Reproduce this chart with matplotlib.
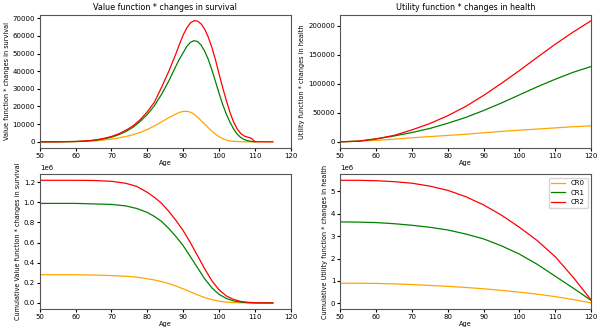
import numpy as np
import matplotlib
matplotlib.use('Agg')
import matplotlib.pyplot as plt

# value function * changes in survival
age_vs_cr2 = [50, 55, 60, 62, 64, 66, 68, 70, 72, 74, 76, 78, 80, 82, 84, 86, 87, 88, 89, 90, 91, 92, 93, 94, 95, 96, 97, 98, 99, 100,
              101, 102, 103, 104, 105, 106, 107, 108, 109, 110, 112, 115]
vs_cr2 = [0, 0, 200, 400, 700, 1200, 2000, 3000, 4500, 6500, 9000, 12500, 17000, 22500, 31000, 40000, 45000, 50000, 55500, 60500,
          64500, 67300, 68600, 68400, 66800, 63800, 59300, 53500, 46500, 38500, 30800, 23600, 17000, 11500, 7500, 4800, 3300, 2600, 2000, 100, 0, 0]
age_vs_cr1 = [50, 55, 60, 62, 64, 66, 68, 70, 72, 74, 76, 78, 80, 82, 84, 86, 88, 89, 90, 91, 92, 93, 94, 95, 96, 97, 98, 99, 100,
              101, 102, 103, 104, 105, 106, 107, 108, 109, 110]
vs_cr1 = [0, 0, 150, 300, 600, 1000, 1700, 2600, 4000, 5800, 8200, 11500, 15500, 20500, 27000, 34500, 43000, 47000, 50500, 54000,
          56300, 57300, 56800, 54800, 51300, 46700, 40800, 34200, 27500, 21300, 15800, 11300, 7500, 4500, 2500, 1300, 600, 200, 0]
age_vs_cr0 = [50, 55, 60, 65, 70, 72, 74, 76, 78, 80, 82, 84, 86, 88, 89, 90, 91, 92, 93, 94, 95, 96, 97, 98, 99, 100,
              101, 102, 103, 104, 106, 108, 115]
vs_cr0 = [0, 0, 100, 400, 1500, 2200, 3000, 4000, 5300, 7000, 9000, 11300, 13700, 15800, 16700, 17200, 17300, 16800, 15700, 14000,
          12000, 10000, 8000, 6000, 4300, 2900, 1800, 1000, 500, 250, 50, 0, 0]

# utility function * changes in health
age_uh = [50, 55, 60, 65, 70, 75, 80, 85, 90, 95, 100, 105, 110, 115, 120]
uh_cr2 = [0, 1000, 5000, 11000, 20500, 31500, 45000, 61000, 80000, 101000, 123000, 146000, 168500, 189500, 209000]
uh_cr1 = [0, 1000, 5000, 10000, 16000, 23000, 32000, 42000, 54000, 67000, 81000, 95000, 108000, 120000, 130000]
uh_cr0 = [0, 1000, 2500, 4500, 7000, 9000, 11000, 13000, 15500, 18000, 20000, 22000, 24000, 26000, 27500]

# cumulative value function * changes in survival
age_cvs = [50, 60, 65, 70, 74, 77, 80, 82, 84, 86, 88, 90, 92, 94, 96, 98, 100, 102, 104, 106, 108, 110, 112, 115]
cvs_cr2 = [1.22e6, 1.22e6, 1.218e6, 1.21e6, 1.19e6, 1.16e6, 1.1e6, 1.05e6, 0.99e6, 0.91e6, 0.82e6, 0.72e6, 0.6e6, 0.47e6,
           0.34e6, 0.22e6, 0.13e6, 0.07e6, 0.035e6, 0.015e6, 0.006e6, 0.002e6, 0, 0]
cvs_cr1 = [0.99e6, 0.99e6, 0.985e6, 0.98e6, 0.965e6, 0.94e6, 0.9e6, 0.86e6, 0.81e6, 0.74e6, 0.66e6, 0.57e6, 0.46e6, 0.35e6,
           0.24e6, 0.15e6, 0.085e6, 0.045e6, 0.02e6, 0.008e6, 0.002e6, 0, 0, 0]
cvs_cr0 = [0.28e6, 0.28e6, 0.277e6, 0.272e6, 0.265e6, 0.257e6, 0.24e6, 0.228e6, 0.212e6, 0.192e6, 0.167e6, 0.14e6, 0.11e6,
           0.08e6, 0.053e6, 0.032e6, 0.017e6, 0.008e6, 0.003e6, 0.001e6, 0, 0, 0, 0]

# cumulative utility function * changes in health
age_cuh = [50, 55, 60, 65, 70, 75, 80, 85, 90, 95, 100, 105, 110, 115, 120]
cuh_cr2 = [5.5e6, 5.5e6, 5.48e6, 5.44e6, 5.37e6, 5.24e6, 5.05e6, 4.77e6, 4.4e6, 3.94e6, 3.4e6, 2.8e6, 2.08e6, 1.16e6, 0.15e6]
cuh_cr1 = [3.64e6, 3.63e6, 3.61e6, 3.56e6, 3.49e6, 3.4e6, 3.28e6, 3.1e6, 2.88e6, 2.57e6, 2.2e6, 1.74e6, 1.21e6, 0.68e6, 0.13e6]
cuh_cr0 = [0.9e6, 0.9e6, 0.89e6, 0.87e6, 0.84e6, 0.8e6, 0.76e6, 0.71e6, 0.65e6, 0.58e6, 0.5e6, 0.41e6, 0.3e6, 0.17e6, 0.02e6]

plt.rcParams['font.size'] = 5.0
plt.rcParams['axes.labelsize'] = 4.7
fig = plt.figure(figsize=(6.02, 3.33), dpi=100)
ax1 = fig.add_axes([0.066, 0.556, 0.417, 0.40])
ax2 = fig.add_axes([0.565, 0.556, 0.417, 0.40])
ax3 = fig.add_axes([0.066, 0.072, 0.417, 0.405])
ax4 = fig.add_axes([0.565, 0.072, 0.417, 0.405])

lw = 0.9
ax1.plot(age_vs_cr0, vs_cr0, color='orange', lw=lw)
ax1.plot(age_vs_cr1, vs_cr1, color='green', lw=lw)
ax1.plot(age_vs_cr2, vs_cr2, color='red', lw=lw)
ax1.set_title('Value function * changes in survival', fontsize=5.8, pad=3)
ax1.set_ylabel('Value function * changes in survival', labelpad=2)

ax2.plot(age_uh, uh_cr0, color='orange', lw=lw)
ax2.plot(age_uh, uh_cr1, color='green', lw=lw)
ax2.plot(age_uh, uh_cr2, color='red', lw=lw)
ax2.set_title('Utility function * changes in health', fontsize=5.8, pad=3)
ax2.set_ylabel('Utility function * changes in health', labelpad=2)

ax3.plot(age_cvs, cvs_cr0, color='orange', lw=lw)
ax3.plot(age_cvs, cvs_cr1, color='green', lw=lw)
ax3.plot(age_cvs, cvs_cr2, color='red', lw=lw)
ax3.set_ylabel('Cumulative Value function * changes in survival', labelpad=2)

ax4.plot(age_cuh, cuh_cr0, color='orange', lw=lw, label='CR0')
ax4.plot(age_cuh, cuh_cr1, color='green', lw=lw, label='CR1')
ax4.plot(age_cuh, cuh_cr2, color='red', lw=lw, label='CR2')
ax4.set_ylabel('Cumulative Utility function * changes in health', labelpad=2)
ax4.legend(loc='upper right', fontsize=5.0)

for ax in [ax1, ax2, ax3, ax4]:
    ax.set_xlim(50, 120)
    ax.set_xlabel('Age', labelpad=1)
    ax.tick_params(length=2, pad=1.5)
    for s in ax.spines.values():
        s.set_linewidth(0.8)
        s.set_color('#555555')

plt.savefig('out.png', dpi=100)
